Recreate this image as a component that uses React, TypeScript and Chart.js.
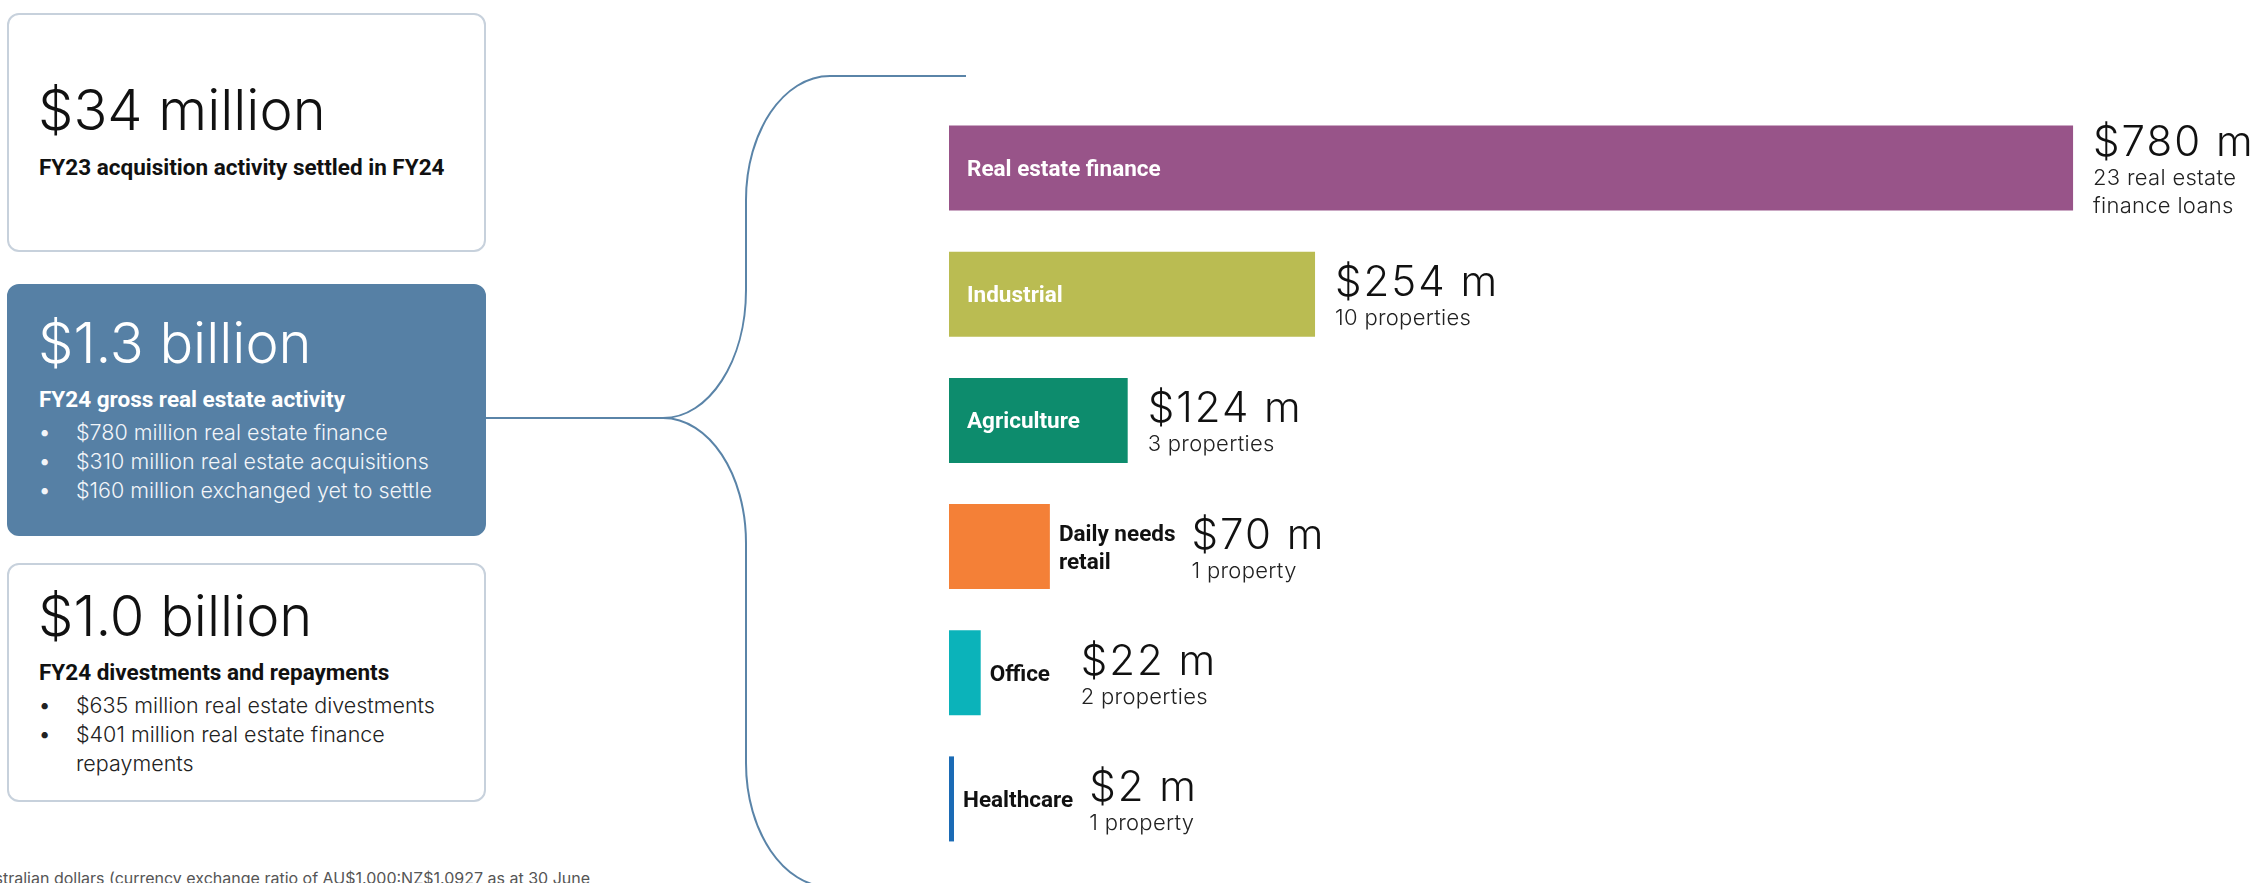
import React, { useEffect, useRef } from "react";
import { Chart, registerables } from "chart.js";

Chart.register(...registerables);

// ---------- data ----------
const categories = ["Real estate finance", "Industrial", "Agriculture", "Daily needs retail", "Office", "Healthcare"];
const categoryLines = [["Real estate finance"], ["Industrial"], ["Agriculture"], ["Daily needs", "retail"], ["Office"], ["Healthcare"]];
const labelInside = [true, true, true, false, false, false];
const values = [780, 254, 124, 70, 22, 2];
const valueLabels = ["$780 m", "$254 m", "$124 m", "$70 m", "$22 m", "$2 m"];
const detailLabels = [["23 real estate", "finance loans"], ["10 properties"], ["3 properties"], ["1 property"], ["2 properties"], ["1 property"]];
const barColors = ["#985489", "#BABC52", "#0D8C6D", "#F48037", "#0BB3BA", "#1B6BB5"];

const cardHeadlines = ["$34 million", "$1.3 billion", "$1.0 billion"];
const cardTitles = ["FY23 acquisition activity settled in FY24", "FY24 gross real estate activity", "FY24 divestments and repayments"];
const cardBullets = [
  [],
  ["$780 million real estate finance", "$310 million real estate acquisitions", "$160 million exchanged yet to settle"],
  ["$635 million real estate divestments", "$401 million real estate finance repayments"],
];
const footnote = "Australian dollars (currency exchange ratio of AU$1.000:NZ$1.0927 as at 30 June 2024).";

// ---------- layout (page pixels) ----------
const cardLayout = [
  { top: 13, height: 239, filled: false, head: 130, title: 175, bullets: 0 },
  { top: 284, height: 252, filled: true, head: 363, title: 407, bullets: 440 },
  { top: 563, height: 239, filled: false, head: 636, title: 680, bullets: 713 },
];

const LIGHT = "Inter, 'Noto Sans', sans-serif";
const BOLD = "Roboto, 'Noto Sans', sans-serif";
const BOLD_SIZE = 22.5;

function topFromBaseline(baseline: number, size: number, lh: number) {
  return baseline - (lh / 2 + 0.3633 * size);
}

const labelPlugin = {
  id: "barLabels",
  afterDatasetsDraw(chart: any) {
    const ctx = chart.ctx as CanvasRenderingContext2D & { letterSpacing?: string };
    const meta = chart.getDatasetMeta(0);
    meta.data.forEach((bar: any, i: number) => {
      const { x, y, base } = bar.getProps(["x", "y", "base"], true);
      ctx.save();
      ctx.textBaseline = "alphabetic";
      ctx.textAlign = "left";
      ctx.font = `700 ${BOLD_SIZE}px ${BOLD}`;
      const lines = categoryLines[i];
      const lh = 28;
      const firstBase = y + 8 - ((lines.length - 1) * lh) / 2;
      let valueX: number;
      if (labelInside[i]) {
        ctx.fillStyle = "#ffffff";
        lines.forEach((l, k) => ctx.fillText(l, base + 18, firstBase + k * lh));
        valueX = x + 20;
      } else {
        ctx.fillStyle = "#111111";
        let w = 0;
        lines.forEach((l, k) => {
          ctx.fillText(l, x + 9, firstBase + k * lh);
          w = Math.max(w, ctx.measureText(l).width);
        });
        valueX = Math.max(x + 9 + w + 16, x + 100);
      }
      const det = detailLabels[i];
      const bigBase = y + 2 - (det.length - 1) * 14;
      ctx.fillStyle = "#111111";
      ctx.font = `300 42px ${LIGHT}`;
      ctx.letterSpacing = "2px";
      ctx.fillText(valueLabels[i], valueX, bigBase);
      ctx.letterSpacing = "0.3px";
      ctx.fillStyle = "#222222";
      ctx.font = `300 22px ${LIGHT}`;
      det.forEach((d, k) => ctx.fillText(d, valueX, bigBase + 29 + k * 28));
      ctx.letterSpacing = "0px";
      ctx.restore();
    });
  },
};

function BarChart() {
  const ref = useRef<HTMLCanvasElement | null>(null);
  useEffect(() => {
    const canvas = ref.current!;
    const chart = new Chart(canvas, {
      type: "bar",
      data: {
        labels: categories,
        datasets: [
          {
            data: values,
            backgroundColor: barColors,
            borderWidth: 0,
            barPercentage: 0.674,
            categoryPercentage: 1,
            minBarLength: 5,
          },
        ],
      },
      options: {
        indexAxis: "y",
        responsive: false,
        animation: false,
        devicePixelRatio: 1,
        layout: { padding: { left: 9, right: 16, top: 105, bottom: 21 } },
        scales: {
          x: { type: "linear", min: 0, max: 900, display: false },
          y: { type: "category", display: false },
        },
        plugins: { legend: { display: false }, tooltip: { enabled: false } },
      } as any,
      plugins: [labelPlugin as any],
    });
    return () => chart.destroy();
  }, []);
  return (
    <canvas
      ref={ref}
      width={1322}
      height={883}
      style={{ position: "absolute", left: 940, top: 0, width: 1322, height: 883 }}
    />
  );
}

function Txt(props: { x: number; baseline: number; size: number; weight: number; color: string; family: string; lh?: number; width?: number; children: React.ReactNode }) {
  const lh = props.lh ?? props.size;
  return (
    <div
      style={{
        position: "absolute",
        left: props.x,
        top: topFromBaseline(props.baseline, props.size, lh),
        fontSize: props.size,
        lineHeight: `${lh}px`,
        fontWeight: props.weight,
        color: props.color,
        fontFamily: props.family,
        whiteSpace: props.width ? "normal" : "nowrap",
        width: props.width,
      }}
    >
      {props.children}
    </div>
  );
}

function Cards() {
  return (
    <>
      {cardLayout.map((c, i) => {
        const fg = c.filled ? "#ffffff" : "#111111";
        const body = c.filled ? "#f2f5f9" : "#222222";
        return (
          <React.Fragment key={i}>
            <div
              style={{
                position: "absolute",
                left: 7,
                top: c.top,
                width: 479,
                height: c.height,
                boxSizing: "border-box",
                borderRadius: 12,
                border: c.filled ? "2px solid #5680A5" : "2px solid #C7D1DC",
                background: c.filled ? "#5680A5" : "#ffffff",
              }}
            />
            <Txt x={38} baseline={c.head} size={56} weight={300} color={fg} family={LIGHT}>
              {cardHeadlines[i]}
            </Txt>
            <Txt x={39} baseline={c.title} size={BOLD_SIZE} weight={700} color={fg} family={BOLD}>
              {cardTitles[i]}
            </Txt>
            {cardBullets[i].map((b, k) => (
              <React.Fragment key={k}>
                <Txt x={39} baseline={c.bullets + k * 29} size={20} weight={400} color={body} family={LIGHT} lh={29}>
                  •
                </Txt>
                <Txt x={76} baseline={c.bullets + k * 29} size={21.5} weight={300} color={body} family={LIGHT} lh={29} width={400}>
                  {b}
                </Txt>
              </React.Fragment>
            ))}
          </React.Fragment>
        );
      })}
    </>
  );
}

function Bracket() {
  const d =
    "M 486 418 L 663 418 C 709 418 746 361 746 290 L 746 200 C 746 131.5 783.6 76 830 76 L 966 76 " +
    "M 663 418 C 709 418 746 474 746 543 L 746 763 C 746 831.5 783.6 887 830 887 L 900 887";
  return (
    <svg width={2262} height={883} style={{ position: "absolute", left: 0, top: 0 }}>
      <path d={d} fill="none" stroke="#5A84A8" strokeWidth={2} />
    </svg>
  );
}

export default function App() {
  return (
    <div
      style={{
        position: "absolute",
        left: 0,
        top: 0,
        width: 2262,
        height: 883,
        overflow: "hidden",
        background: "#ffffff",
        fontFamily: LIGHT,
      }}
    >
      <Bracket />
      <Cards />
      <BarChart />
      <div
        style={{
          position: "absolute",
          left: -26,
          top: topFromBaseline(884, 16, 16),
          width: 640,
          fontSize: 16,
          lineHeight: "16px",
          color: "#555555",
          fontFamily: LIGHT,
          fontWeight: 400,
        }}
      >
        {footnote}
      </div>
    </div>
  );
}
